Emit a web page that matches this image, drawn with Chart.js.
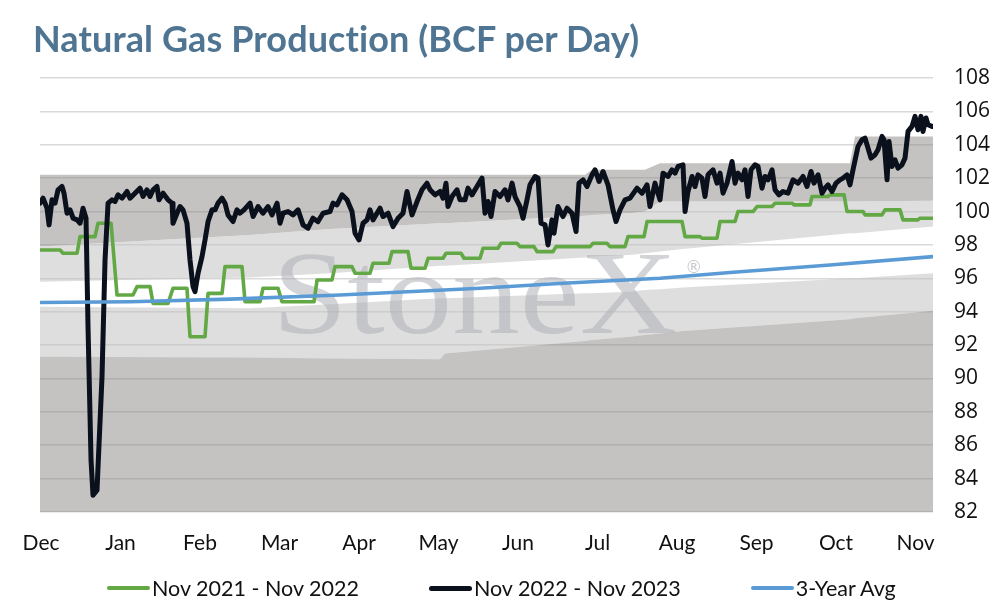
<!DOCTYPE html>
<html>
<head>
<meta charset="utf-8">
<title>Natural Gas Production (BCF per Day)</title>
<script src="https://cdn.jsdelivr.net/npm/chart.js@4.4.0/dist/chart.umd.min.js"></script>
<style>
  html, body { margin: 0; padding: 0; background: #fff; }
  .wrap { position: relative; width: 994px; height: 606px; overflow: hidden; }
  #chart { position: absolute; left: 0; top: 0; }
  .title {
    position: absolute; left: 33px; top: 18px;
    font: bold 36px/40px Lato, sans-serif; color: #4f7592; white-space: nowrap; letter-spacing: 0.1px;
  }
  .legend {
    position: absolute; left: 107px; top: 576px;
    display: flex; gap: 70px; font: 21.5px/24px Lato, sans-serif; color: #111; white-space: nowrap;
  }
  .legend .item { display: flex; align-items: center; }
  .legend i { display: inline-block; width: 43px; border-radius: 3px; margin-right: 2px; }
</style>
</head>
<body>
<div class="wrap">
  <canvas id="chart" width="994" height="606"></canvas>
  <div class="title">Natural Gas Production (BCF per Day)</div>
  <div class="legend" id="legend"></div>
</div>
<script>
// x values are month offsets from the "Dec" label (0 = Dec, 11 = Nov)
const months = ["Dec", "Jan", "Feb", "Mar", "Apr", "May", "Jun", "Jul", "Aug", "Sep", "Oct", "Nov"];
const yTicks = [82, 84, 86, 88, 90, 92, 94, 96, 98, 100, 102, 104, 106, 108];
const xRange = [-0.013, 11.22];

// Nov 2021 - Nov 2022 (stepped series)
const prevYear = [
  [-0.013,97.7],[0.239,97.7],[0.277,97.5],[0.453,97.5],[0.491,98.5],[0.679,98.5],[0.717,99.3],[0.881,99.3],
  [0.956,95.0],[1.157,95.0],[1.208,95.5],[1.371,95.5],[1.409,94.5],[1.597,94.5],[1.660,95.4],[1.836,95.4],
  [1.874,92.5],[2.063,92.5],[2.101,95.1],[2.277,95.1],[2.314,96.7],[2.528,96.7],[2.566,94.6],[2.755,94.6],
  [2.792,95.4],[2.981,95.4],[3.031,94.6],[3.434,94.6],[3.472,95.9],[3.660,95.9],[3.698,96.7],[3.912,96.7],
  [3.950,96.3],[4.138,96.3],[4.176,96.9],[4.377,96.9],[4.415,97.6],[4.616,97.6],[4.654,96.6],[4.830,96.6],
  [4.868,97.2],[5.057,97.2],[5.094,97.5],[5.283,97.5],[5.321,97.2],[5.522,97.2],[5.560,97.8],[5.748,97.8],
  [5.786,98.1],[5.987,98.1],[6.025,97.9],[6.201,97.9],[6.239,97.6],[6.440,97.6],[6.478,97.9],[6.906,97.9],
  [6.943,98.1],[7.119,98.1],[7.157,97.9],[7.346,97.9],[7.384,98.5],[7.585,98.5],[7.623,99.4],[8.063,99.4],
  [8.101,98.5],[8.289,98.5],[8.314,98.4],[8.503,98.4],[8.541,99.4],[8.730,99.4],[8.767,100.0],[8.956,100.0],
  [9.006,100.3],[9.195,100.3],[9.233,100.5],[9.447,100.5],[9.472,100.4],[9.673,100.4],[9.698,100.9],[9.899,100.9],
  [9.925,101.0],[10.101,101.0],[10.138,100.0],[10.340,100.0],[10.365,99.8],[10.579,99.8],[10.616,100.1],[10.805,100.1],
  [10.843,99.5],[11.031,99.5],[11.057,99.6],[11.22,99.6]
];

// Nov 2022 - Nov 2023
const curYear = [
  [-0.013,100.5],[0.025,100.8],[0.075,100.2],[0.101,99.2],[0.138,100.7],[0.176,100.5],[0.214,101.3],[0.264,101.5],
  [0.289,101.1],[0.327,99.9],[0.365,100.1],[0.403,99.6],[0.453,99.5],[0.491,99.3],[0.528,100.2],[0.566,99.6],
  [0.591,93.1],[0.629,85.1],[0.654,83.0],[0.704,83.3],[0.767,90.1],[0.805,97.1],[0.843,100.5],[0.893,100.7],
  [0.931,100.6],[0.969,101.0],[1.019,100.8],[1.082,101.2],[1.119,100.8],[1.182,101.1],[1.245,101.4],[1.283,100.9],
  [1.333,101.3],[1.371,100.9],[1.409,101.3],[1.459,101.5],[1.484,100.7],[1.535,101.1],[1.597,100.7],[1.648,100.5],
  [1.660,99.3],[1.711,99.9],[1.748,100.3],[1.786,100.1],[1.836,99.3],[1.874,97.1],[1.912,95.5],[1.937,95.2],
  [1.975,96.3],[2.025,97.3],[2.063,98.3],[2.101,99.4],[2.151,100.1],[2.189,100.1],[2.226,100.5],[2.277,100.8],
  [2.314,100.5],[2.352,99.8],[2.415,99.4],[2.465,100.1],[2.503,99.9],[2.553,100.1],[2.629,100.5],[2.667,99.7],
  [2.730,100.3],[2.792,99.9],[2.855,100.3],[2.906,99.8],[2.969,100.5],[3.006,99.3],[3.044,99.9],[3.107,100.0],
  [3.170,99.8],[3.233,100.1],[3.296,99.2],[3.358,99.0],[3.421,99.6],[3.484,99.4],[3.547,99.9],[3.635,100.0],
  [3.673,100.5],[3.723,100.4],[3.786,101.0],[3.849,100.7],[3.912,100.0],[3.950,98.7],[4.000,98.3],[4.050,99.3],
  [4.101,99.5],[4.138,100.1],[4.176,99.5],[4.226,99.9],[4.264,100.2],[4.302,99.7],[4.365,99.9],[4.428,99.1],
  [4.491,99.6],[4.553,99.9],[4.604,101.2],[4.667,99.8],[4.730,100.6],[4.792,101.3],[4.855,101.7],[4.893,101.3],
  [4.956,101.0],[5.019,101.2],[5.057,100.8],[5.094,101.7],[5.119,100.3],[5.170,100.9],[5.233,101.3],[5.270,100.7],
  [5.333,100.7],[5.371,101.4],[5.421,101.0],[5.484,101.5],[5.547,102.0],[5.585,99.9],[5.623,100.6],[5.660,99.7],
  [5.711,101.2],[5.774,100.9],[5.836,101.3],[5.874,100.7],[5.925,101.7],[5.962,100.9],[6.025,100.3],[6.063,99.6],
  [6.113,100.7],[6.151,101.6],[6.214,102.1],[6.252,102.0],[6.289,99.3],[6.340,99.2],[6.377,98.0],[6.428,99.5],
  [6.453,98.7],[6.503,100.3],[6.566,99.7],[6.616,100.2],[6.679,99.9],[6.730,98.8],[6.767,101.7],[6.818,101.9],
  [6.868,101.5],[6.931,102.2],[6.969,102.5],[7.019,101.8],[7.069,102.4],[7.132,101.6],[7.195,100.1],[7.233,99.4],
  [7.283,100.1],[7.346,100.7],[7.409,100.8],[7.497,101.4],[7.560,101.1],[7.623,101.6],[7.660,100.3],[7.723,101.7],
  [7.761,101.1],[7.786,100.7],[7.824,102.3],[7.887,102.1],[7.937,102.5],[7.975,102.3],[8.013,102.7],[8.075,102.8],
  [8.101,100.0],[8.138,101.2],[8.189,102.1],[8.226,101.5],[8.264,102.2],[8.314,102.0],[8.352,100.9],[8.390,102.2],
  [8.453,102.5],[8.503,101.7],[8.541,102.3],[8.579,101.1],[8.629,101.7],[8.692,103.0],[8.730,101.7],[8.767,102.3],
  [8.818,101.9],[8.855,102.5],[8.893,100.9],[8.931,102.5],[8.981,102.8],[9.019,102.7],[9.069,101.4],[9.107,102.1],
  [9.145,101.9],[9.195,102.5],[9.233,101.3],[9.283,101.0],[9.333,101.2],[9.396,101.1],[9.459,101.9],[9.522,101.7],
  [9.585,102.1],[9.635,101.5],[9.686,102.4],[9.723,101.7],[9.774,102.2],[9.824,101.1],[9.862,101.4],[9.899,101.6],
  [9.950,101.2],[10.000,101.7],[10.050,101.9],[10.088,102.0],[10.138,102.2],[10.176,101.6],[10.214,102.5],[10.277,103.9],
  [10.327,104.3],[10.365,104.4],[10.390,104.0],[10.440,103.2],[10.491,103.4],[10.528,103.7],[10.579,104.5],[10.604,104.3],
  [10.642,101.9],[10.667,104.2],[10.704,102.7],[10.742,103.1],[10.780,102.6],[10.830,102.8],[10.868,103.2],[10.906,104.8],
  [10.956,105.1],[10.994,105.7],[11.031,104.9],[11.069,105.7],[11.094,104.8],[11.132,105.6],[11.157,105.2],[11.208,105.1]
];

// 3-year average
const avg3 = [
  [-0.013,94.55],[1.119,94.6],[2.377,94.75],[3.761,95.0],[5.522,95.4],[6.566,95.7],[7.786,96.0],[8.667,96.35],
  [9.925,96.8],[11.22,97.3]
];

// shaded range bands, bottom to top
const rangeX   = [-0.013, 2.629, 3.635, 5.019, 5.082, 6.843, 6.931, 7.409, 7.597, 7.786, 8.075, 10.176, 10.239, 11.22];
const band1    = [91.3, 91.25, 91.2, 91.15, 91.5, 92.25, 92.3, 92.5, 92.6, 92.7, 92.85, 93.55, 93.6, 94.05];
const band2    = [94.3, 94.2, 94.45, 94.8, 94.8, 95.1, 95.1, 95.2, 95.3, 95.35, 95.45, 96.0, 96.0, 96.3];
const band3    = [95.8, 96.05, 96.3, 96.75, 96.75, 97.25, 97.3, 97.4, 97.5, 97.6, 97.75, 98.7, 98.7, 99.1];
const band4    = [97.9, 98.6, 98.95, 99.3, 99.3, 99.75, 99.8, 99.9, 100.0, 100.6, 100.6, 100.6, 100.6, 100.65];
const band5    = [102.2, 102.2, 102.2, 102.2, 102.2, 102.2, 102.5, 102.5, 102.5, 102.9, 102.9, 102.9, 104.5, 104.5];

const DARK = "rgba(140,136,132,0.5)";
const LIGHT = "rgba(195,195,195,0.55)";

const toPts = (rows) => rows.map(([x, y]) => ({ x, y }));
const bandPts = (vals) => vals.map((y, i) => ({ x: rangeX[i], y }));

const band = (vals, fill, color, order) => ({
  band: true,
  data: bandPts(vals),
  borderWidth: 0,
  backgroundColor: color,
  fill,
  order
});

const watermark = {
  id: "watermark",
  beforeDatasetDraw(chart, args) {
    if (args.index !== 0) return;
    const { ctx, chartArea: a } = chart;
    const w = a.right - a.left, h = a.bottom - a.top;
    ctx.save();
    ctx.beginPath();
    ctx.rect(a.left, a.top, w, h);
    ctx.clip();
    ctx.font = '118px "Liberation Serif", serif';
    ctx.textBaseline = "alphabetic";
    ctx.textAlign = "left";
    const text = "StoneX";
    const tw = ctx.measureText(text).width;
    ctx.translate(a.left + w * 0.26, a.top + h * 0.588);
    ctx.scale((w * 0.4535) / tw, 1);
    ctx.fillStyle = "rgba(175,177,182,0.55)";
    ctx.fillText(text, 0, 0);
    ctx.restore();

    ctx.save();
    ctx.font = '17px "DejaVu Sans", sans-serif';
    ctx.textAlign = "center";
    ctx.textBaseline = "middle";
    ctx.fillStyle = "rgba(175,177,182,0.7)";
    ctx.fillText("\u00AE", a.left + w * 0.732, a.top + h * 0.438);
    ctx.restore();
  }
};

const chart = new Chart(document.getElementById("chart"), {
  type: "line",
  data: {
    datasets: [
      { label: "Nov 2021 - Nov 2022", data: toPts(prevYear), borderColor: "#62a845", borderWidth: 3.6, order: 2 },
      { label: "Nov 2022 - Nov 2023", data: toPts(curYear), borderColor: "#0b111c", borderWidth: 5, order: 1 },
      { label: "3-Year Avg", data: toPts(avg3), borderColor: "#5b9bd5", borderWidth: 3.6, order: 0 },
      band(band1, "start", DARK, 10),
      band(band2, "-1", LIGHT, 11),
      band(band3, false, "transparent", 12),
      band(band4, "-1", LIGHT, 13),
      band(band5, "-1", DARK, 14)
    ]
  },
  options: {
    responsive: false,
    animation: false,
    events: [],
    layout: { padding: { top: 78, left: 40, right: 0, bottom: 39 } },
    elements: {
      point: { radius: 0 },
      line: { tension: 0, borderJoinStyle: "round", borderCapStyle: "round", fill: false }
    },
    plugins: {
      legend: { display: false },
      title: { display: false },
      tooltip: { enabled: false }
    },
    scales: {
      x: {
        type: "linear",
        min: xRange[0],
        max: xRange[1],
        afterBuildTicks: (scale) => { scale.ticks = months.map((m, i) => ({ value: i })); },
        afterFit: (scale) => { scale.height = 55; },
        grid: { display: false },
        border: { display: false },
        ticks: {
          autoSkip: false,
          maxRotation: 0,
          padding: 11,
          color: "#111",
          font: { family: "Lato", size: 21 },
          callback: (value) => months[value]
        }
      },
      y: {
        position: "right",
        min: yTicks[0],
        max: yTicks[yTicks.length - 1],
        afterFit: (scale) => { scale.width = 61; },
        grid: { color: "#d9d9d9", lineWidth: 1.5, drawTicks: false },
        border: { display: false },
        ticks: {
          stepSize: yTicks[1] - yTicks[0],
          padding: 21,
          color: "#111",
          font: { family: "Open Sans", size: 21 }
        }
      }
    }
  },
  plugins: [watermark]
});

// html legend built from the line datasets
const legendEl = document.getElementById("legend");
chart.data.datasets.filter(d => !d.band).forEach(d => {
  const item = document.createElement("span");
  item.className = "item";
  const sw = document.createElement("i");
  sw.style.background = d.borderColor;
  sw.style.height = Math.round(d.borderWidth) + "px";
  item.appendChild(sw);
  item.appendChild(document.createTextNode(d.label));
  legendEl.appendChild(item);
});
</script>
</body>
</html>
